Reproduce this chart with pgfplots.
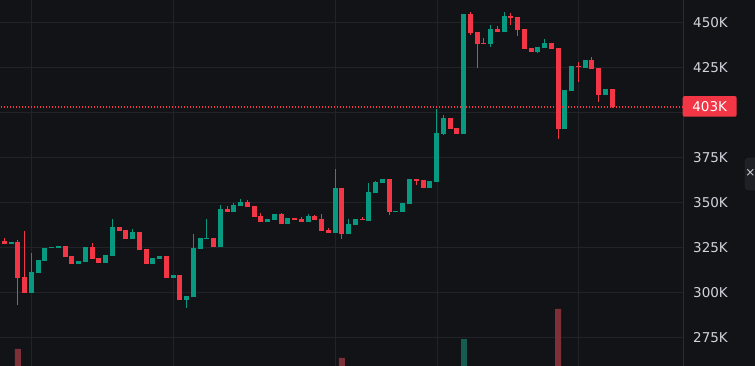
\documentclass[border=0pt]{standalone}
\usepackage{pgfplots}
\pgfplotsset{compat=1.18}
\usepackage{pgfplotstable}
\usepackage{fontspec}
\setmainfont{DejaVu Sans}
\definecolor{bg}{RGB}{18,19,23}
\definecolor{gridc}{RGB}{33,35,41}
\definecolor{up}{RGB}{8,153,129}
\definecolor{dn}{RGB}{242,54,69}
\definecolor{upv}{RGB}{22,92,80}
\definecolor{dnv}{RGB}{126,48,56}
\definecolor{lbl}{RGB}{209,212,220}
\definecolor{sepc}{RGB}{42,44,52}
\definecolor{tabc}{RGB}{30,32,38}

% green (rising) candles: index, open, high, low, close
\pgfplotstableread{
i o h l c
-1 322.6 325.9 322.6 325.9
1 327.0 327.9 327.0 327.9
4 299.8 321.8 299.8 311.3
5 310.9 318.0 310.9 318.0
6 317.6 324.6 317.6 324.6
7 324.8 325.2 324.8 325.2
8 324.8 325.7 324.8 325.7
11 315.9 317.4 315.9 317.4
12 317.0 325.2 317.0 325.2
15 316.5 320.7 316.5 320.7
16 320.4 340.7 320.4 336.3
19 329.8 335.2 329.8 333.5
22 315.9 319.1 315.9 319.1
23 318.7 320.2 318.7 320.2
25 308.1 309.6 308.1 309.6
27 295.9 298.0 291.5 298.0
28 297.6 332.4 297.6 324.6
29 324.2 330.2 324.2 330.2
30 329.9 340.7 329.9 330.1
32 325.4 348.5 325.4 346.3
34 344.6 349.8 344.6 348.5
35 347.9 351.8 347.9 350.4
39 339.1 340.7 339.1 340.7
40 340.2 343.5 340.2 343.5
42 337.9 341.3 337.9 341.3
45 339.1 343.5 339.1 342.4
49 333.1 368.5 333.1 357.9
51 332.5 340.7 332.5 337.9
52 337.5 340.7 337.5 340.7
54 339.7 360.7 339.7 355.7
55 355.3 361.8 355.3 361.3
56 360.7 362.9 360.7 362.9
58 344.9 345.1 344.9 345.1
59 344.8 349.6 344.8 349.6
60 349.2 362.9 349.2 362.9
63 358.0 361.8 358.0 361.8
64 361.5 401.8 361.5 388.5
65 388.0 398.5 387.6 396.8
68 388.0 454.6 388.0 454.6
72 438.0 448.5 436.3 446.3
74 444.6 455.7 444.6 453.5
79 433.5 436.3 432.9 436.3
80 435.7 440.7 435.7 438.5
83 390.7 412.4 390.7 412.4
84 411.8 425.7 411.8 425.7
86 424.6 429.1 424.6 429.1
89 409.6 412.9 409.6 412.9
}\upTab

% red (falling) candles: index, open, high, low, close
\pgfplotstableread{
i o h l c
0 328.6 330.2 327.0 327.0
2 327.9 329.1 293.0 308.1
3 308.5 334.1 299.8 299.8
9 325.7 325.7 319.8 319.8
10 320.2 320.2 315.9 315.9
13 325.2 327.4 318.5 318.5
14 319.1 319.1 316.5 316.5
17 336.3 336.3 334.2 334.2
18 334.6 334.6 329.8 329.8
20 333.5 333.5 323.7 323.7
21 324.1 324.1 315.9 315.9
24 320.2 320.2 308.1 308.1
26 309.6 309.6 295.9 295.9
31 330.2 330.2 325.4 325.4
33 346.3 347.9 344.6 344.6
36 350.4 351.3 347.4 347.4
37 347.9 347.9 341.8 341.8
38 342.4 344.1 339.1 339.1
41 343.5 344.1 337.9 337.9
43 341.3 341.3 340.2 340.2
44 340.7 341.8 339.1 339.1
46 342.4 343.0 340.2 340.2
47 340.7 343.5 334.1 334.1
48 334.6 335.7 332.9 332.9
50 357.9 357.9 329.7 332.5
53 340.9 341.8 340.4 340.4
57 362.9 362.9 343.1 344.8
61 362.9 362.9 359.8 362.0
62 362.4 362.4 358.0 358.0
66 396.8 396.8 390.8 390.8
67 391.3 391.3 388.0 388.0
69 454.6 455.7 442.9 444.1
70 444.6 444.6 424.6 438.0
71 438.5 441.3 438.0 438.0
73 446.3 447.9 444.6 444.6
75 453.5 455.2 448.5 452.8
76 452.9 452.9 442.4 445.7
77 446.3 446.3 435.2 435.2
78 435.7 435.7 433.5 433.5
81 438.5 438.5 435.2 435.2
82 435.7 435.7 385.2 390.7
85 425.7 427.9 416.8 425.2
87 429.1 430.7 424.1 424.1
88 424.6 424.6 405.7 409.6
90 412.9 412.9 402.4 402.9
}\dnTab

\pgfplotsset{
  chartbase/.style={scale only axis, width=683pt, height=366pt,
    at={(0pt,0pt)}, anchor=south west, xmin=-0.635, xmax=100.5},
  wick/.style={draw=none, mark=none, forget plot,
    error bars/.cd, y dir=both, y explicit, error mark=none,
    error bar style={draw=#1, line width=1pt}},
  body/.style={draw=none, mark=none, forget plot,
    error bars/.cd, y dir=both, y explicit, error mark=none,
    error bar style={draw=#1, line width=5pt}},
}

\begin{document}
\begin{tikzpicture}
\fill[bg] (0,0) rectangle (755pt,366pt);
\useasboundingbox (0,0) rectangle (755pt,366pt);
\clip (0,0) rectangle (755pt,366pt);

% grid and price labels
\begin{axis}[chartbase, ymin=259.06, ymax=462.39,
  axis line style={draw=none}, major tick length=0pt, tick style={draw=none},
  xtick={4,25,49,64.1,85}, xticklabels={},
  ytick={275,300,325,350,375,400,425,450},
  yticklabels={275K,300K,325K,350K,375K,,425K,450K},
  yticklabel pos=right,
  yticklabel style={anchor=west, inner sep=0pt, xshift=10pt,
    font=\fontsize{13.5pt}{16pt}\selectfont, text=lbl},
  xmajorgrids, ymajorgrids,
  grid style={draw=gridc, line width=1pt}]
\addplot[draw=none, forget plot] coordinates {(0,300) (1,300)};
\end{axis}

% volume
\begin{axis}[chartbase, ymin=0, ymax=366, hide axis]
\addplot[ybar, bar width=6pt, bar shift=0pt, fill=dnv, draw=none]
  coordinates {(2,17) (50,8) (82,57)};
\addplot[ybar, bar width=6pt, bar shift=0pt, fill=upv, draw=none]
  coordinates {(68,27)};
\end{axis}

% candles
\begin{axis}[chartbase, ymin=259.06, ymax=462.39, hide axis]
\addplot[wick=up] table[x=i, y expr={(\thisrow{h}+\thisrow{l})/2},
  y error expr={(\thisrow{h}-\thisrow{l})/2}] {\upTab};
\addplot[wick=dn] table[x=i, y expr={(\thisrow{h}+\thisrow{l})/2},
  y error expr={(\thisrow{h}-\thisrow{l})/2}] {\dnTab};
\addplot[body=up] table[x=i, y expr={(\thisrow{o}+\thisrow{c})/2},
  y error expr={max(abs(\thisrow{c}-\thisrow{o})/2,0.3)}] {\upTab};
\addplot[body=dn] table[x=i, y expr={(\thisrow{o}+\thisrow{c})/2},
  y error expr={max(abs(\thisrow{c}-\thisrow{o})/2,0.3)}] {\dnTab};
\addplot[draw=dn, mark=none, line width=1.3pt, dash pattern=on 1.3pt off 1.7pt]
  coordinates {(-1,402.9) (101,402.9)};
\end{axis}

% separator of the price scale
\draw[sepc, line width=1pt] (683pt,0) -- (683pt,366pt);

% last price tag
\node[fill=dn, rounded corners=2pt, minimum width=54pt, minimum height=20.7pt,
  inner sep=0pt, text=white, font=\fontsize{13.5pt}{16pt}\selectfont]
  at (709.7pt,259.6pt) {403K};

% side tab
\filldraw[fill=tabc, draw=sepc, rounded corners=4pt] (745pt,176pt) rectangle (770pt,208pt);
\node[text=lbl, font=\fontsize{12pt}{14pt}\selectfont, inner sep=0pt] at (750.5pt,193pt) {×};
\end{tikzpicture}
\end{document}
